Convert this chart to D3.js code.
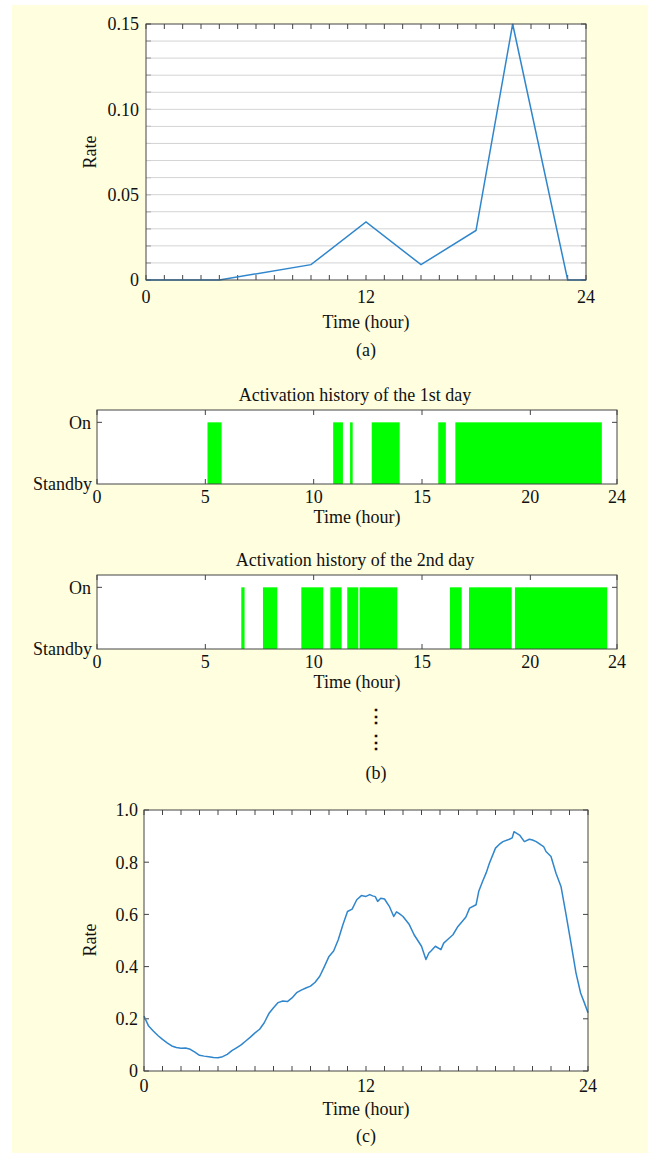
<!DOCTYPE html>
<html>
<head>
<meta charset="utf-8">
<script src="https://cdn.jsdelivr.net/npm/d3@7"></script>
<style>
body { margin: 0; background: #fff; }
text { font-family: "Liberation Serif", "Times New Roman", serif; fill: #111; }
</style>
</head>
<body>
<script>
// (a) hourly activation rate
var hours_a = [0, 4, 9, 12, 15, 18, 20, 23, 24];
var rate_a = [0, 0, 0.009, 0.034, 0.009, 0.029, 0.15, 0, 0];
var ticks_a = [0, 0.05, 0.10, 0.15];
var tick_labels_a = ["0", "0.05", "0.10", "0.15"];

// (b) on-intervals (start / end hour)
var day1_start = [5.1, 10.9, 11.68, 12.68, 15.75, 16.54];
var day1_end = [5.75, 11.35, 11.8, 13.97, 16.1, 23.3];
var day2_start = [6.66, 7.66, 9.43, 10.77, 11.55, 12.12, 16.29, 17.17, 19.29];
var day2_end = [6.81, 8.32, 10.44, 11.29, 12.06, 13.86, 16.83, 19.14, 23.55];
var ticks_b = [0, 5, 10, 15, 20, 24];

// (c) simulated rate curve
var hours_c = [0, 0.25, 0.5, 0.75, 1, 1.25, 1.5, 1.75, 2, 2.25, 2.5, 2.75, 3, 3.25, 3.5, 3.75, 4, 4.25, 4.5,
    4.75, 5, 5.25, 5.5, 5.75, 6, 6.25, 6.5, 6.75, 7, 7.25, 7.5, 7.75, 8, 8.25, 8.5, 8.75, 9, 9.25, 9.5,
    9.75, 10, 10.25, 10.5, 10.75, 11, 11.25, 11.5, 11.75, 12, 12.2, 12.36, 12.5, 12.63, 12.8, 13.0, 13.26,
    13.5, 13.65, 13.8, 14.0, 14.34, 14.6, 14.8, 15.0, 15.24, 15.4, 15.5, 15.75, 16.05, 16.2, 16.4, 16.7,
    16.97, 17.2, 17.4, 17.6, 17.95, 18.1, 18.3, 18.5, 18.67, 19.0, 19.2, 19.4, 19.75, 19.9, 20.0, 20.3,
    20.56, 20.83, 21.0, 21.2, 21.46, 21.6, 21.73, 22.0, 22.27, 22.54, 22.8, 23.08, 23.35, 23.6, 23.8, 24];
var rate_c = [0.21, 0.172, 0.153, 0.136, 0.121, 0.108, 0.096, 0.09, 0.087, 0.088, 0.083, 0.072, 0.06, 0.057,
    0.055, 0.052, 0.051, 0.055, 0.064, 0.078, 0.089, 0.1, 0.115, 0.13, 0.146, 0.16, 0.185, 0.22, 0.242,
    0.262, 0.268, 0.266, 0.28, 0.3, 0.31, 0.318, 0.325, 0.34, 0.363, 0.4, 0.439, 0.46, 0.503, 0.56, 0.611,
    0.62, 0.656, 0.672, 0.669, 0.676, 0.671, 0.668, 0.65, 0.662, 0.659, 0.631, 0.592, 0.61, 0.603, 0.592,
    0.561, 0.522, 0.5, 0.478, 0.427, 0.452, 0.459, 0.478, 0.465, 0.49, 0.503, 0.522, 0.554, 0.573, 0.59,
    0.624, 0.637, 0.69, 0.726, 0.76, 0.796, 0.854, 0.868, 0.879, 0.888, 0.893, 0.917, 0.904, 0.879, 0.888,
    0.885, 0.879, 0.866, 0.86, 0.841, 0.822, 0.758, 0.707, 0.605, 0.49, 0.376, 0.299, 0.262, 0.223];
var ticks_c = [0, 0.2, 0.4, 0.6, 0.8, 1.0];
var tick_labels_c = ["0", "0.2", "0.4", "0.6", "0.8", "1.0"];

var width = 648,
    height = 1153;
var font_size = 18;
var box_color = "#444";
var line_color = "#2f86cc";
var bar_color = "#00ff00";
var tick_len = 5;

var svg = d3.select("body").append("svg")
    .attr("width", width)
    .attr("height", height);

svg.append("rect")
    .attr("x", 12).attr("y", 5)
    .attr("width", width - 12).attr("height", height - 5)
    .attr("fill", "#ffffe0");

function label(x, y, s, anchor, rotate){
    var t = svg.append("text")
        .attr("x", x).attr("y", y)
        .attr("dy", "0.35em")
        .attr("text-anchor", anchor || "middle")
        .attr("font-size", font_size)
        .text(s);
    if (rotate)
        t.attr("transform", "rotate(-90," + x + "," + y + ")");
    return t;
}

// box with inward ticks on all four sides
function draw_box(x, y, x_ticks, y_ticks){
    var g = svg.append("g");
    var r0 = x.range(), r1 = y.range();
    g.append("rect")
        .attr("x", r0[0]).attr("y", r1[1])
        .attr("width", r0[1] - r0[0]).attr("height", r1[0] - r1[1])
        .attr("fill", "#fff");
    x_ticks.forEach(function(t){
        g.append("line").attr("x1", x(t)).attr("x2", x(t))
            .attr("y1", r1[0]).attr("y2", r1[0] - tick_len);
        g.append("line").attr("x1", x(t)).attr("x2", x(t))
            .attr("y1", r1[1]).attr("y2", r1[1] + tick_len);
    });
    y_ticks.forEach(function(t){
        g.append("line").attr("y1", y(t)).attr("y2", y(t))
            .attr("x1", r0[0]).attr("x2", r0[0] + tick_len);
        g.append("line").attr("y1", y(t)).attr("y2", y(t))
            .attr("x1", r0[1]).attr("x2", r0[1] - tick_len);
    });
    g.selectAll("line").attr("stroke", box_color).attr("stroke-width", 1);
    return g;
}

function outline(x, y){
    var r0 = x.range(), r1 = y.range();
    svg.append("rect")
        .attr("x", r0[0]).attr("y", r1[1])
        .attr("width", r0[1] - r0[0]).attr("height", r1[0] - r1[1])
        .attr("fill", "none")
        .attr("stroke", box_color)
        .attr("stroke-width", 1);
}

// ---------- (a) ----------
var xa = d3.scaleLinear().domain([0, 24]).range([146, 586]);
var ya = d3.scaleLinear().domain([0, 0.15]).range([280, 24]);
var grid_a = d3.range(0, 0.1501, 0.01);

draw_box(xa, ya, d3.range(0, 25, 1), grid_a);
svg.append("g").selectAll("line.grid")
    .data(grid_a.slice(1, -1))
  .enter().append("line")
    .attr("x1", xa(0)).attr("x2", xa(24))
    .attr("y1", function(d){ return ya(d); })
    .attr("y2", function(d){ return ya(d); })
    .attr("stroke", "#d4d4d4")
    .attr("stroke-width", 1);

svg.append("path")
    .datum(hours_a)
    .attr("fill", "none")
    .attr("stroke", line_color)
    .attr("stroke-width", 1.5)
    .attr("d", d3.line()
        .x(function(d){ return xa(d); })
        .y(function(d, i){ return ya(rate_a[i]); }));
outline(xa, ya);

ticks_a.forEach(function(t, i){ label(139, ya(t), tick_labels_a[i], "end"); });
[0, 12, 24].forEach(function(t){ label(xa(t), 297, String(t)); });
label(90, 152, "Rate", "middle", true);
label(366, 322, "Time (hour)");
label(366, 350, "(a)");

// ---------- (b) ----------
function draw_day(top, title, starts, ends){
    var x = d3.scaleLinear().domain([0, 24]).range([97, 617]);
    var y = d3.scaleLinear().domain([0, 1.2]).range([top + 74, top]);
    draw_box(x, y, ticks_b, [1]);
    svg.append("g").selectAll("rect")
        .data(starts)
      .enter().append("rect")
        .attr("x", function(d){ return x(d); })
        .attr("width", function(d, i){ return x(ends[i]) - x(d); })
        .attr("y", y(1))
        .attr("height", y(0) - y(1))
        .attr("fill", bar_color);
    outline(x, y);
    label(355, top - 15, title);
    label(91, y(1), "On", "end");
    label(92, y(0), "Standby", "end");
    ticks_b.forEach(function(t){ label(x(t), y(0) + 13, String(t)); });
    label(357, y(0) + 33, "Time (hour)");
}

draw_day(410, "Activation history of the 1st day", day1_start, day1_end);
draw_day(575, "Activation history of the 2nd day", day2_start, day2_end);
label(376, 716, "\u22ee").attr("font-weight", "bold");
label(376, 742, "\u22ee").attr("font-weight", "bold");
label(376, 773, "(b)");

// ---------- (c) ----------
var xc = d3.scaleLinear().domain([0, 24]).range([144, 588]);
var yc = d3.scaleLinear().domain([0, 1]).range([1071, 810]);

draw_box(xc, yc, d3.range(0, 25, 1), ticks_c);
svg.append("path")
    .datum(hours_c)
    .attr("fill", "none")
    .attr("stroke", line_color)
    .attr("stroke-width", 1.5)
    .attr("stroke-linejoin", "round")
    .attr("d", d3.line()
        .x(function(d){ return xc(d); })
        .y(function(d, i){ return yc(rate_c[i]); }));
outline(xc, yc);

ticks_c.forEach(function(t, i){ label(138, yc(t), tick_labels_c[i], "end"); });
[0, 12, 24].forEach(function(t){ label(xc(t), 1086, String(t)); });
label(90, 940, "Rate", "middle", true);
label(366, 1109, "Time (hour)");
label(366, 1136, "(c)");
</script>
</body>
</html>
